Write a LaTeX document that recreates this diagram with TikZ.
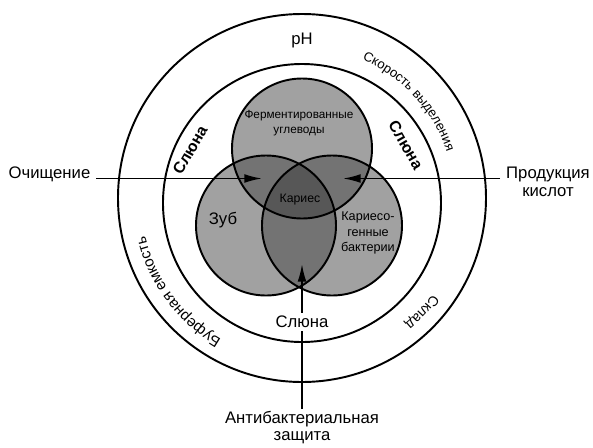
\documentclass[tikz,border=0pt]{standalone}
\usepackage{fontspec}
\setmainfont{Liberation Sans}
\usetikzlibrary{arrows.meta}
\usetikzlibrary{decorations.text}
\tikzstyle{ring}=[draw,line width=1.1pt]
\tikzstyle{venn}=[draw,line width=1.1pt]
\tikzstyle{flow}=[draw,line width=1pt,-{Latex[length=10pt,width=5pt]}]
\tikzstyle{outlabel}=[font=\fontsize{9.5}{10}\selectfont,align=center]
\tikzstyle{innerlabel}=[font=\fontsize{7}{8.8}\selectfont,align=center]
\tikzstyle{salivalabel}=[font=\bfseries\fontsize{9}{10}\selectfont]
\begin{document}
\begin{tikzpicture}
\useasboundingbox (-6.04,-4.94) rectangle (5.82,4.0);

   \def\rv{1.4}
   \coordinate (ctop) at (0,1.03);
   \coordinate (cleft) at (-0.72,-0.51);
   \coordinate (cright) at (0.6,-0.51);

% rings
   \draw[ring] (0,0.04) circle (3.68);
   \draw[ring] (0,-0.06) circle (2.78);

% venn shades
   \foreach \c in {ctop,cleft,cright}
      \fill[black!37] (\c) circle (\rv);
   \begin{scope}
      \clip (ctop) circle (\rv);
      \fill[black!55] (cleft) circle (\rv);
      \fill[black!55] (cright) circle (\rv);
   \end{scope}
   \begin{scope}
      \clip (cleft) circle (\rv);
      \fill[black!55] (cright) circle (\rv);
   \end{scope}
   \begin{scope}
      \clip (ctop) circle (\rv);
      \clip (cleft) circle (\rv);
      \fill[black!66] (cright) circle (\rv);
   \end{scope}
   \foreach \c in {ctop,cleft,cright}
      \draw[venn] (\c) circle (\rv);

% Labels
   \node[outlabel] (ph) at (0,3.2) {pH};
   \node[outlabel,anchor=base east] (clean) at (-4.11,0.43) {Очищение};
   \node[outlabel] (acid) at (4.92,0.36) {Продукция\\кислот};
   \node[outlabel,inner sep=1pt,anchor=north] (protect) at (0,-4.18) {Антибактериальная\\защита};

   \node[salivalabel,rotate=60] (salival) at (-2.24,1.0) {Слюна};
   \node[salivalabel,rotate=-60] (salivar) at (2.08,1.1) {Слюна};

   \node[innerlabel,font=\fontsize{6.7}{8.8}\selectfont] (carbs) at (-0.06,1.54) {Ферментированные\\углеводы};
   \node[innerlabel] (caries) at (-0.04,0) {Кариес};
   \node[outlabel] (tooth) at (-1.58,-0.4) {Зуб};
   \node[innerlabel,font=\fontsize{7.2}{8.8}\selectfont] (bact) at (1.32,-0.66) {Кариесо-\\генные\\бактерии};

% arrows
   \coordinate (tipL) at (-0.8,0.43);
   \coordinate (tipR) at (0.82,0.43);
   \coordinate (tipB) at (0,-1.28);
   \draw[flow] (clean.base east) -- (tipL);
   \draw[flow] (acid.west |- tipR) -- (tipR);
   \draw[flow] (protect.north) -- (tipB);
   \node[outlabel,fill=white,inner sep=1.5pt] (salivab) at (0,-2.44) {Слюна};

% text on the ring
   \path[decorate,decoration={text along path,text align=center,
      text={|\fontsize{7.5}{9}\selectfont|Скорость выделения}}]
      (75:3.05) arc[start angle=75,end angle=10,radius=3.05];
   \path[decorate,decoration={text along path,text align=center,
      text={|\fontsize{8.6}{10}\selectfont|Буферная емкость}}]
      (250:3.22) arc[start angle=250,end angle=183,radius=3.22];
   \path[decorate,decoration={text along path,text align=center,
      text={|\fontsize{8}{10}\selectfont|Склад}}]
      (-20:3.22) arc[start angle=-20,end angle=-66,radius=3.22];

\end{tikzpicture}
\end{document}
